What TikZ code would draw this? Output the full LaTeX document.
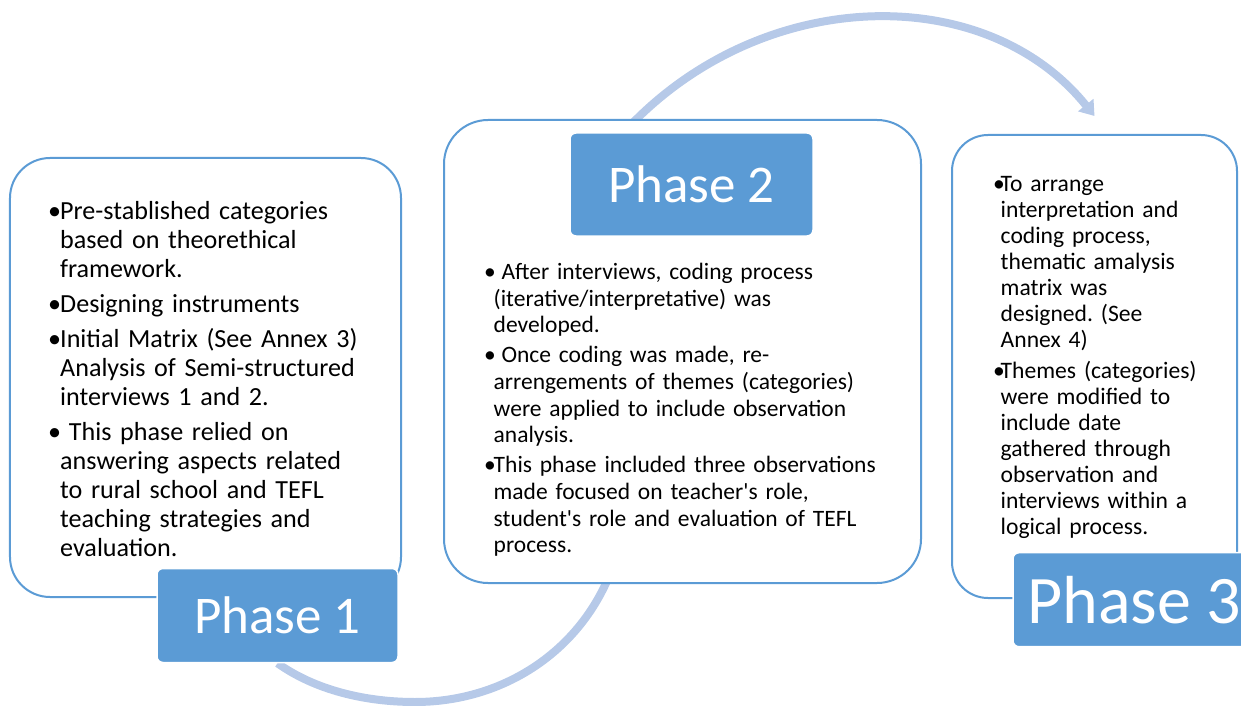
\documentclass[tikz,border=0pt]{standalone}
\usepackage{fontspec}
\setmainfont{Carlito}
\usepackage{xcolor}
\usetikzlibrary{arrows.meta,backgrounds,calc,positioning}

\definecolor{phaseblue}{RGB}{91,155,213}
\definecolor{arcblue}{RGB}{182,201,232}

\newlength\bulw
\newcommand{\bul}[1]{\par\hangindent=\bulw\hangafter=1\noindent\makebox[\bulw][l]{\textbullet}#1\par}
\frenchspacing

\begin{document}
\begin{tikzpicture}[x=1bp,y=-1bp,>={Triangle[width=19bp,length=14bp]},
	phasebox/.style={draw=phaseblue,line width=2bp,fill=white,rounded corners=40bp},
	phaselabel/.style={fill=phaseblue,draw=white,line width=1.5bp,text=white,rounded corners=6bp,inner sep=0pt,font=\fontsize{53bp}{60bp}\selectfont},
	bodytext/.style={anchor=base west,inner sep=0pt,text width=#1},
	cyclearc/.style={draw=arcblue,line width=8bp}]
	\useasboundingbox (0,0) rectangle (1241,706);

	\node (box1) at (205.5,377.5) [phasebox, minimum width=391bp, minimum height=439bp] {};
	\node (box2) at (682.5,351.5) [phasebox, minimum width=477bp, minimum height=463bp, rounded corners=44bp] {};
	\node (box3) at (1094.5,366.5) [phasebox, minimum width=285bp, minimum height=463bp, rounded corners=36bp] {};

	\node (lab1) at (277.5,615.5) [phaselabel, minimum width=241bp, minimum height=94bp] {Phase 1};
	\node (lab2) at (691.5,184.5) [phaselabel, minimum width=243bp, minimum height=103bp] {Phase 2};
	\node (lab3) at (1134,599.7) [phaselabel, minimum width=242bp, minimum height=94bp, font=\fontsize{68bp}{76bp}\selectfont] {Phase 3};

	\node (txt1) at (48,184.2) [bodytext=380bp, font=\fontsize{26.1bp}{29bp}\selectfont] {\setlength\bulw{12bp}\setlength\parskip{6bp}
		\bul{Pre-stablished categories\newline based on theorethical\newline framework.}
		\bul{Designing instruments}
		\bul{Initial Matrix (See Annex 3)\newline Analysis of Semi-structured\newline interviews 1 and 2.}
		\bul{\ This phase relied on\newline answering aspects related\newline to rural school and TEFL\newline teaching strategies and\newline evaluation.}};
	\node (txt2) at (484,249.4) [bodytext=440bp, font=\fontsize{23.5bp}{26.7bp}\selectfont] {\setlength\bulw{9.5bp}\setlength\parskip{3.2bp}
		\bul{\ After interviews, coding process\newline (iterative/interpretative) was\newline developed.}
		\bul{\ Once coding was made, re-\newline arrengements of themes (categories)\newline were applied to include observation\newline analysis.}
		\bul{This phase included three observations\newline made focused on teacher\textquotesingle s role,\newline student\textquotesingle s role and evaluation of TEFL\newline process.}};
	\node (txt3) at (993,160.5) [bodytext=245bp, font=\fontsize{23.6bp}{26bp}\selectfont] {\setlength\bulw{7.5bp}\setlength\parskip{5bp}
		\bul{To arrange\newline interpretation and\newline coding process,\newline thematic amalysis\newline matrix was\newline designed. (See\newline Annex 4)}
		\bul{Themes (categories)\newline were modified to\newline include date\newline gathered through\newline observation and\newline interviews within a\newline logical process.}};

	\coordinate (out2) at ($(box2.north west)!0.38!(box2.north east)+(0,12)$);
	\coordinate (in2) at ($(box2.south west)!0.38!(box2.south east)+(0,-70)$);
	\coordinate (in3) at ([yshift=18bp]box3.north);

	\begin{scope}[on background layer]
		\draw [cyclearc] (lab1.south) .. controls (315,690) and (365,702) .. (415,702) .. controls (520,702) and (612,630) .. (in2);
		\draw [cyclearc,->] (out2) .. controls (760,-15) and (985,-20) .. (in3);
	\end{scope}
\end{tikzpicture}
\end{document}
